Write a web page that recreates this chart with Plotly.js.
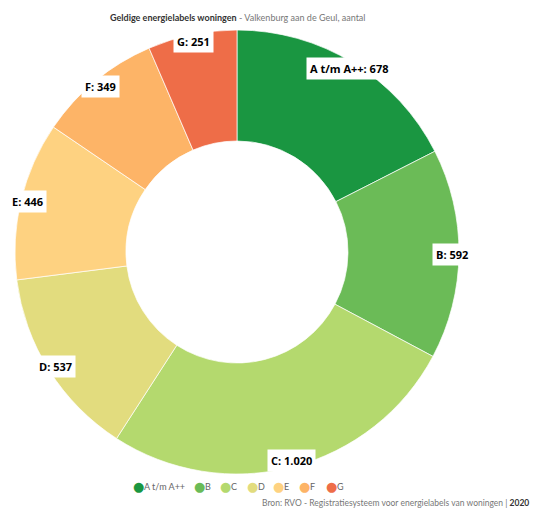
<!DOCTYPE html>
<html>
<head>
<meta charset="utf-8">
<script src="https://cdn.plot.ly/plotly-3.0.1.min.js"></script>
<style>html,body{margin:0;padding:0;background:#fff;}#chart{width:533px;height:508px;}</style>
</head>
<body>
<div id="chart"></div>
<script>
// Data
var categories = ["A t/m A++", "B", "C", "D", "E", "F", "G"];
var values = [678, 592, 1020, 537, 446, 349, 251];
var colors = ["#1a9641", "#6bbb57", "#b4d96e", "#e2dc7e", "#fed281", "#fdb467", "#ee6d48"];

// Layout constants (pixels)
var W = 533, H = 508;
var cx = 237, cy = 252, R = 222, labelR = 215;
var legendX = [131, 192, 218, 245, 271, 297, 324];
var legendY = 486;

function fmt(v) {
  var s = String(v);
  return s.replace(/\B(?=(\d{3})+(?!\d))/g, ".");
}

var total = values.reduce(function (a, b) { return a + b; }, 0);
var annotations = [];
var cum = 0;
values.forEach(function (v, i) {
  var mid = (cum + v / 2) / total * 2 * Math.PI;
  cum += v;
  var px = cx + labelR * Math.sin(mid);
  var py = cy - labelR * Math.cos(mid);
  annotations.push({
    x: px / W, y: 1 - py / H, xref: "paper", yref: "paper",
    text: "<b>" + categories[i] + ": " + fmt(v) + "</b>",
    showarrow: false, bgcolor: "#ffffff", borderpad: 3,
    font: {family: "Open Sans", size: 11, color: "#000"},
    xanchor: "center", yanchor: "middle"
  });
});

// Legend
categories.forEach(function (c, i) {
  annotations.push({
    x: legendX[i] / W, y: 1 - legendY / H, xref: "paper", yref: "paper",
    text: '<span style="color:' + colors[i] + '">●</span>',
    showarrow: false, xanchor: "left", yanchor: "middle",
    font: {family: "DejaVu Sans", size: 13}
  });
  annotations.push({
    x: (legendX[i] + 11) / W, y: 1 - legendY / H, xref: "paper", yref: "paper",
    text: c, showarrow: false, xanchor: "left", yanchor: "middle",
    font: {family: "Lato", size: 9, color: "#666"}
  });
});

// Title
annotations.push({
  x: cx / W, y: 1 - 17 / H, xref: "paper", yref: "paper",
  text: '<b style="color:#333">Geldige energielabels woningen</b><span style="color:#777"> - Valkenburg aan de Geul, aantal</span>',
  showarrow: false, xanchor: "center", yanchor: "middle",
  font: {family: "Lato", size: 9}
});
// Source
annotations.push({
  x: 531 / W, y: 1 - 503 / H, xref: "paper", yref: "paper",
  text: 'Bron: RVO - Registratiesysteem voor energielabels van woningen | <b style="color:#333">2020</b>',
  showarrow: false, xanchor: "right", yanchor: "middle",
  font: {family: "Lato", size: 8.5, color: "#777"}
});

var trace = {
  type: "pie",
  labels: categories,
  values: values,
  hole: 0.5,
  sort: false,
  direction: "clockwise",
  rotation: 0,
  textinfo: "none",
  marker: {colors: colors, line: {color: "#ffffff", width: 0.7}},
  domain: {x: [(cx - R) / W, (cx + R) / W], y: [1 - (cy + R) / H, 1 - (cy - R) / H]},
  showlegend: false,
  hoverinfo: "label+value"
};

var layout = {
  width: W, height: H,
  margin: {l: 0, r: 0, t: 0, b: 0},
  paper_bgcolor: "#fff",
  showlegend: false,
  annotations: annotations
};

Plotly.newPlot("chart", [trace], layout, {displayModeBar: false, staticPlot: true});
</script>
</body>
</html>
